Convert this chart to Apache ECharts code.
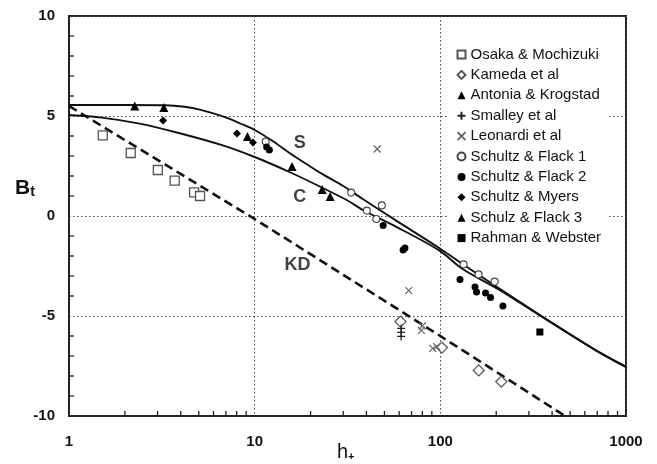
<!DOCTYPE html>
<html>
<head>
<meta charset="utf-8">
<script src="https://cdn.jsdelivr.net/npm/echarts@6/dist/echarts.min.js"></script>
<style>
  html, body { margin: 0; padding: 0; background: #fff; }
  #chart { width: 657px; height: 464px; }
</style>
</head>
<body>
<div id="chart"></div>
<script>
// Roughness function data: h+ (roughness Reynolds number) vs Bt
const osaka    = [[1.52, 4.03], [2.15, 3.15], [3.01, 2.3], [3.71, 1.77], [4.72, 1.18], [5.08, 1.0]];
const kameda   = [[61, -5.28], [102, -6.58], [161, -7.72], [213, -8.28]];
const antonia  = [[2.26, 5.5], [3.24, 5.42], [9.14, 3.98], [15.9, 2.47]];
const smalley  = [[61.5, -5.62], [61.5, -5.82], [61.5, -6.02]];
const leonardi = [[45.7, 3.35], [67.6, -3.73], [80, -5.5], [79, -5.72], [91, -6.62], [95.6, -6.53]];
const schultzFlack1 = [[11.46, 3.72], [33.1, 1.17], [40.2, 0.27], [48.4, 0.53], [45.2, -0.15],
                       [133.4, -2.42], [160.7, -2.92], [196, -3.28]];
const schultzFlack2 = [[11.6, 3.45], [12.0, 3.3], [49.2, -0.48], [63, -1.7], [64.5, -1.6],
                       [127.6, -3.17], [153.7, -3.55], [156.7, -3.8], [175.2, -3.85], [186.4, -4.08], [217.3, -4.5]];
const schultzMyers  = [[3.21, 4.78], [8.03, 4.13], [9.79, 3.68]];
const schulzFlack3  = [[23.1, 1.32], [25.5, 0.97]];
const rahman        = [[343.6, -5.8]];

// Correlation curves
const curveS  = [[1, 5.55], [2, 5.55], [3.3, 5.54], [4.2, 5.46], [5.06, 5.32], [6.8, 4.97], [8.5, 4.6], [10, 4.3],
                 [12.5, 3.75], [15.4, 3.15], [19, 2.6], [23.3, 2.08], [30, 1.5], [38.2, 0.85],
                 [57.6, -0.22], [98.6, -1.6], [131.8, -2.4], [207, -3.62], [354, -5.03], [686, -6.7], [1000, -7.53]];
const curveC  = [[1, 5.05], [1.5, 4.92], [2.4, 4.62], [3.9, 4.15], [6.8, 3.52], [10, 2.95],
                 [15.4, 2.2], [23.3, 1.4], [32, 0.75], [38.2, 0.3], [57.6, -0.53], [98.6, -1.72],
                 [131.8, -2.65], [207, -3.68], [300, -4.62], [354, -5.05], [686, -6.72], [1000, -7.56]];
const curveKD = [[1, 5.5], [10, -0.15], [100, -6.0], [470, -10]];

// Curve labels
const curveLabels = [[17.5, 3.65, 'S'], [17.5, 0.95, 'C'], [17.0, -2.45, 'KD']];

// Axis ticks
const yTicks = { min: -10, max: 10, step: 5 };
const yMinorTicks = [-9, -8, -7, -6, -4, -3, -2, -1, 1, 2, 3, 4, 6, 7, 8, 9];
const xRange = { min: 1, max: 1000 };
const xMinorTicks = [2, 3, 4, 5, 6, 7, 8, 9, 20, 30, 40, 50, 60, 70, 80, 90, 200, 300, 400, 500, 600, 700, 800, 900];

const FONT = '"Liberation Sans", Arial, sans-serif';
const PLUS = 'path://M5,0L5,10M0,5L10,5';
const CROSS = 'path://M0,0L10,10M10,0L0,10';

function pts(name, data, symbol, size, style) {
  return {
    name, type: 'scatter', data, symbol, symbolSize: size,
    itemStyle: Object.assign({ opacity: 1 }, style), z: 5, clip: false
  };
}
const openGray = { color: '#fff', borderColor: '#555', borderWidth: 1.3 };
const filled = { color: '#000' };
const strokeOnly = (c, w) => ({ color: 'none', borderColor: c, borderWidth: w });

const legendNames = ['Osaka & Mochizuki', 'Kameda et al', 'Antonia & Krogstad', 'Smalley et al',
  'Leonardi et al', 'Schultz & Flack 1', 'Schultz & Flack 2', 'Schultz & Myers', 'Schulz & Flack 3', 'Rahman & Webster'];

const chart = echarts.init(document.getElementById('chart'));
chart.setOption({
  animation: false,
  backgroundColor: '#fff',
  textStyle: { fontFamily: FONT },
  grid: { left: 69, right: 31, top: 16, bottom: 48, show: true, borderColor: '#222', borderWidth: 2, backgroundColor: '#fff' },
  xAxis: {
    type: 'log', logBase: 10, min: xRange.min, max: xRange.max,
    axisLine: { onZero: false, lineStyle: { color: '#222', width: 2 } },
    axisTick: { show: false },
    axisLabel: { fontSize: 15, fontWeight: 'bold', color: '#111', margin: 18, fontFamily: FONT,
                 formatter: v => String(Math.round(v)) },
    splitLine: { show: true, lineStyle: { color: '#444', width: 1, type: [1.5, 2.5] } }
  },
  yAxis: {
    type: 'value', min: yTicks.min, max: yTicks.max, interval: yTicks.step,
    axisLine: { show: true, onZero: false, lineStyle: { color: '#222', width: 2 } },
    axisTick: { show: false },
    axisLabel: { fontSize: 15, fontWeight: 'bold', color: '#111', margin: 14, fontFamily: FONT },
    splitLine: { show: true, lineStyle: { color: '#444', width: 1, type: [1.5, 2.5] } }
  },
  legend: {
    data: legendNames,
    orient: 'vertical', left: 447, top: 40,
    backgroundColor: '#fff',
    padding: [6, 8, 6, 8],
    itemWidth: 8, itemHeight: 8, itemGap: 3.4,
    textStyle: { fontSize: 15, lineHeight: 17, color: '#111', fontFamily: FONT }
  },
  graphic: [
    {
      type: 'text', left: 15, top: 178,
      style: {
        text: '{b|B}{t|t}',
        rich: {
          b: { fontSize: 21, fontWeight: 'bold', fill: '#111', fontFamily: FONT, verticalAlign: 'bottom', lineHeight: 24 },
          t: { fontSize: 14, fontWeight: 'bold', fill: '#111', fontFamily: FONT, verticalAlign: 'bottom', lineHeight: 22 }
        }
      }
    },
    {
      type: 'text', left: 337, top: 442,
      style: {
        text: '{h|h}{p|+}',
        rich: {
          h: { fontSize: 20, fill: '#111', fontFamily: FONT, verticalAlign: 'bottom', lineHeight: 22 },
          p: { fontSize: 11, fontWeight: 'bold', fill: '#111', fontFamily: FONT, verticalAlign: 'bottom', lineHeight: 16 }
        }
      }
    }
  ],
  series: [
    { name: 'S', type: 'line', data: curveS, showSymbol: false, smooth: 0.3, lineStyle: { color: '#111', width: 1.9 }, z: 3 },
    { name: 'C', type: 'line', data: curveC, showSymbol: false, smooth: 0.3, lineStyle: { color: '#111', width: 1.9 }, z: 3 },
    { name: 'KD', type: 'line', data: curveKD, showSymbol: false, lineStyle: { color: '#111', width: 2.6, type: [9, 5] }, z: 3 },
    {
      name: 'curveLabels', type: 'scatter', symbolSize: 0, silent: true, z: 6,
      data: curveLabels.map(d => ({ value: [d[0], d[1]], label: { formatter: d[2] } })),
      label: { show: true, position: 'inside', fontSize: 18, fontWeight: 'bold', color: '#111', fontFamily: FONT }
    },
    {
      name: 'xMinorTicks', type: 'scatter', silent: true, clip: false, z: 4,
      data: xMinorTicks.map(v => [v, yTicks.min]),
      symbol: 'rect', symbolSize: [1.3, 5], symbolOffset: [0, -2.5],
      itemStyle: { color: '#222', opacity: 1 }
    },
    {
      name: 'yMinorTicks', type: 'scatter', silent: true, clip: false, z: 4,
      data: yMinorTicks.map(v => [xRange.min, v]),
      symbol: 'rect', symbolSize: [5, 1.3], symbolOffset: [2.5, 0],
      itemStyle: { color: '#222', opacity: 1 }
    },
    pts('Osaka & Mochizuki', osaka, 'rect', 9, openGray),
    pts('Kameda et al', kameda, 'diamond', 11, openGray),
    pts('Antonia & Krogstad', antonia, 'triangle', 9, filled),
    pts('Smalley et al', smalley, PLUS, 8, strokeOnly('#222', 1.3)),
    pts('Leonardi et al', leonardi, CROSS, 7, strokeOnly('#666', 1.2)),
    pts('Schultz & Flack 1', schultzFlack1, 'circle', 7, { color: '#fff', borderColor: '#444', borderWidth: 1.1 }),
    pts('Schultz & Flack 2', schultzFlack2, 'circle', 7, filled),
    pts('Schultz & Myers', schultzMyers, 'diamond', 8, filled),
    pts('Schulz & Flack 3', schulzFlack3, 'triangle', 9, filled),
    pts('Rahman & Webster', rahman, 'rect', 7, filled)
  ]
});
</script>
</body>
</html>
